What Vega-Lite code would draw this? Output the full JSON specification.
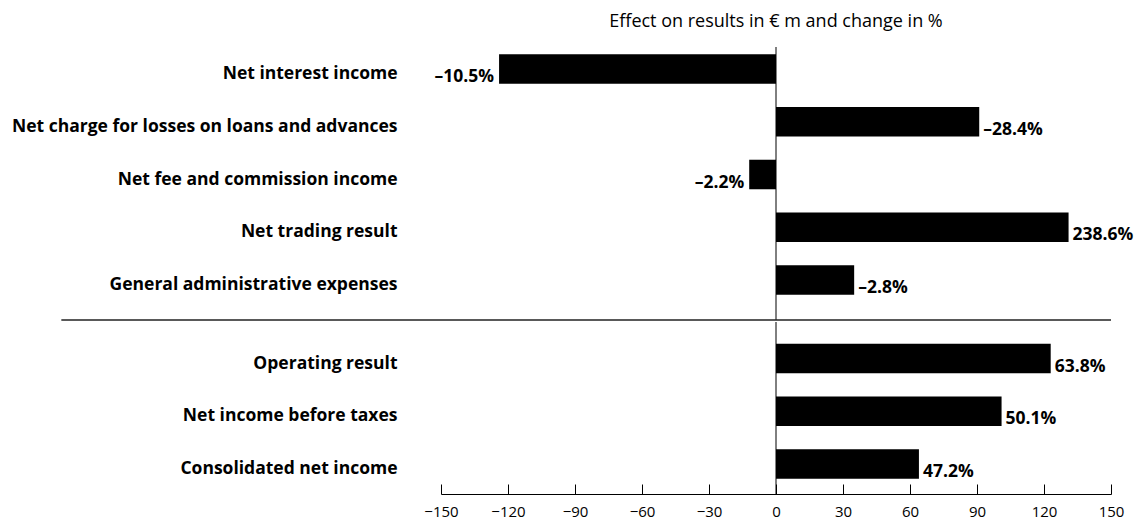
{
  "$schema": "https://vega.github.io/schema/vega-lite/v6.json",
  "background": "white",
  "padding": {"left": 5, "top": 12, "right": 0, "bottom": 4},
  "spacing": 0,
  "config": {
    "view": {"stroke": null},
    "font": "Open Sans",
    "axis": {"grid": false}
  },
  "datasets": {
    "top": [
      {"item": "Net interest income", "value": -124, "label": "–10.5%"},
      {"item": "Net charge for losses on loans and advances", "value": 91, "label": "–28.4%"},
      {"item": "Net fee and commission income", "value": -12, "label": "–2.2%"},
      {"item": "Net trading result", "value": 131, "label": "238.6%"},
      {"item": "General administrative expenses", "value": 35, "label": "–2.8%"}
    ],
    "bottom": [
      {"item": "Operating result", "value": 123, "label": "63.8%"},
      {"item": "Net income before taxes", "value": 101, "label": "50.1%"},
      {"item": "Consolidated net income", "value": 64, "label": "47.2%"}
    ]
  },
  "vconcat": [
    {
      "title": {"text": "Effect on results in € m and change in %", "fontSize": 18, "fontWeight": "normal", "anchor": "middle", "frame": "group", "offset": 16, "color": "black", "font": "Open Sans"},
      "width": 670,
      "height": 273,
      "layer": [
        {
          "data": {"name": "top"},
          "encoding": {
            "y": {"field": "item", "type": "nominal", "sort": null, "title": null,
              "scale": {"paddingInner": 0.44, "paddingOuter": 0.308, "align": 0.223},
              "axis": {"domain": false, "ticks": false, "labelFontSize": 17.5, "labelFontWeight": "bold", "labelColor": "black", "labelPadding": 44, "labelLimit": 500, "minExtent": 436, "maxExtent": 436, "labelOffset": 5, "labelFont": "Open Sans"}},
            "x": {"field": "value", "type": "quantitative", "scale": {"domain": [-150, 150], "nice": false}, "axis": null}
          },
          "layer": [
            {"mark": {"type": "bar", "color": "black"}},
            {
              "transform": [{"filter": "datum.value < 0"}],
              "mark": {"type": "text", "align": "right", "baseline": "middle", "dx": -5, "dy": 8, "fontSize": 17.5, "fontWeight": "bold", "color": "black"},
              "encoding": {"text": {"field": "label"}}
            },
            {
              "transform": [{"filter": "datum.value >= 0"}],
              "mark": {"type": "text", "align": "left", "baseline": "middle", "dx": 4, "dy": 8, "fontSize": 17.5, "fontWeight": "bold", "color": "black"},
              "encoding": {"text": {"field": "label"}}
            }
          ]
        },
        {
          "data": {"values": [{}]},
          "mark": {"type": "rule", "color": "black", "strokeWidth": 1},
          "encoding": {"x": {"datum": 0, "type": "quantitative"}}
        },
        {
          "data": {"values": [{}]},
          "mark": {"type": "rule", "color": "#222", "strokeWidth": 1.5},
          "encoding": {
            "x": {"datum": -320, "type": "quantitative"},
            "x2": {"datum": 150},
            "y": {"value": "height"}
          }
        }
      ]
    },
    {
      "width": 670,
      "height": 172,
      "layer": [
        {
          "data": {"name": "bottom"},
          "encoding": {
            "y": {"field": "item", "type": "nominal", "sort": null, "title": null,
              "scale": {"paddingInner": 0.44, "paddingOuter": 0.3507, "align": 0.588},
              "axis": {"domain": false, "ticks": false, "labelFontSize": 17.5, "labelFontWeight": "bold", "labelColor": "black", "labelPadding": 44, "labelLimit": 500, "minExtent": 436, "maxExtent": 436, "labelOffset": 5, "labelFont": "Open Sans"}},
            "x": {"field": "value", "type": "quantitative", "scale": {"domain": [-150, 150], "nice": false}, "title": null,
              "axis": {"values": [-150, -120, -90, -60, -30, 0, 30, 60, 90, 120, 150], "domain": true, "domainColor": "black", "domainWidth": 1, "ticks": true, "tickSize": -10, "tickColor": "black", "labelFontSize": 15, "labelColor": "black", "labelPadding": 20, "labelFlush": false, "grid": false, "labelFont": "Open Sans"}}
          },
          "layer": [
            {"mark": {"type": "bar", "color": "black"}},
            {
              "mark": {"type": "text", "align": "left", "baseline": "middle", "dx": 4, "dy": 8, "fontSize": 17.5, "fontWeight": "bold", "color": "black"},
              "encoding": {"text": {"field": "label"}}
            }
          ]
        },
        {
          "data": {"values": [{}]},
          "mark": {"type": "rule", "color": "black", "strokeWidth": 1},
          "encoding": {"x": {"datum": 0, "type": "quantitative"}}
        }
      ]
    }
  ]
}
